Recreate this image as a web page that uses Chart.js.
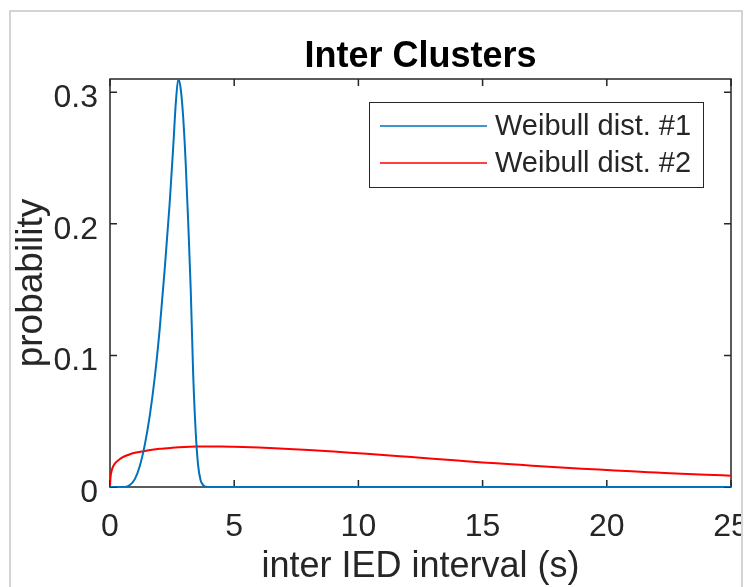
<!DOCTYPE html>
<html>
<head>
<meta charset="utf-8">
<title>Inter Clusters</title>
<script src="https://cdn.jsdelivr.net/npm/chart.js@4.4.1/dist/chart.umd.min.js"></script>
<style>
  html, body { margin: 0; padding: 0; background: #fff; }
  canvas { display: block; }
</style>
</head>
<body>
<canvas id="chart-inter" width="746" height="587"></canvas>
<script>
const FONT = '"Liberation Sans", Arial, Helvetica, sans-serif';
const AXIS_COLOR = '#262626';
const TITLE = 'Inter Clusters';

// axis ticks
const xTicks = [0, 5, 10, 15, 20, 25];
const xTickLabels = ['0', '5', '10', '15', '20', '25'];
const yTicks = [0, 0.1, 0.2, 0.3];
const yTickLabels = ['0', '0.1', '0.2', '0.3'];

// Weibull dist. #1 (narrow peak)
const weibull1X = [0, 0.6, 0.8, 1.0, 1.2, 1.4, 1.6, 1.8, 2.0, 2.2, 2.4, 2.55, 2.65, 2.75,
    2.85, 2.95, 3.05, 3.15, 3.25, 3.35, 3.45, 3.55, 3.65, 3.75, 3.85, 4.0, 25];
const weibull1Y = [0, 0, 0.0015, 0.006, 0.016, 0.032, 0.054, 0.083, 0.12, 0.165, 0.215, 0.26, 0.292, 0.31,
    0.302, 0.28, 0.245, 0.2, 0.15, 0.085, 0.042, 0.016, 0.005, 0.0015, 0.0003, 0, 0];

// Weibull dist. #2 (long tail)
const weibull2X = [0, 0.02, 0.05, 0.1, 0.2, 0.35, 0.5, 0.75, 1.0, 1.5, 2.0, 2.5, 3.0, 3.5, 4.0, 4.5, 5,
    6, 7, 8, 9, 10, 11, 12, 13, 14, 15, 16, 17, 18, 19, 20, 21, 22, 23, 24, 25];
const weibull2Y = [0, 0.007, 0.011, 0.0145, 0.018, 0.0205, 0.0225, 0.0245, 0.026, 0.0277, 0.029, 0.0298, 0.0304, 0.0307, 0.0308, 0.0308, 0.0306,
    0.03, 0.0291, 0.0281, 0.0269, 0.0256, 0.0243, 0.0229, 0.0215, 0.0201, 0.0187, 0.0175, 0.0162, 0.015, 0.0139, 0.0129, 0.0119, 0.011, 0.0101, 0.0093, 0.0086];

function toPoints(xs, ys) {
    return xs.map((x, i) => ({ x: x, y: ys[i] }));
}

// title centred over the axes, not the whole canvas
const axesTitle = {
    id: 'axesTitle',
    afterDraw(chart) {
        const { ctx, chartArea: a } = chart;
        ctx.save();
        ctx.fillStyle = '#000';
        ctx.font = `bold 36px ${FONT}`;
        ctx.textAlign = 'center';
        ctx.textBaseline = 'alphabetic';
        ctx.fillText(TITLE, (a.left + a.right) / 2, 67);
        ctx.restore();
    }
};

// box around the axes with inward ticks on all four sides
const axesBox = {
    id: 'axesBox',
    beforeDatasetsDraw(chart) {
        const { ctx, chartArea: a, scales } = chart;
        ctx.save();
        ctx.strokeStyle = AXIS_COLOR;
        ctx.lineWidth = 1.5;
        ctx.strokeRect(a.left, a.top, a.right - a.left, a.bottom - a.top);
        ctx.beginPath();
        xTicks.forEach(v => {
            const px = scales.x.getPixelForValue(v);
            ctx.moveTo(px, a.bottom);
            ctx.lineTo(px, a.bottom - 7);
            ctx.moveTo(px, a.top);
            ctx.lineTo(px, a.top + 7);
        });
        yTicks.forEach(v => {
            const py = scales.y.getPixelForValue(v);
            ctx.moveTo(a.left, py);
            ctx.lineTo(a.left + 7, py);
            ctx.moveTo(a.right, py);
            ctx.lineTo(a.right - 7, py);
        });
        ctx.stroke();
        ctx.restore();
    }
};

// legend in the upper right corner of the axes
const boxLegend = {
    id: 'boxLegend',
    afterDatasetsDraw(chart) {
        const { ctx, chartArea: a } = chart;
        const width = 334;
        const height = 85;
        const left = a.right - 28 - width;
        const top = a.top + 23;
        ctx.save();
        ctx.fillStyle = '#fff';
        ctx.fillRect(left, top, width, height);
        ctx.strokeStyle = AXIS_COLOR;
        ctx.lineWidth = 1;
        ctx.strokeRect(left + 0.5, top + 0.5, width, height);
        ctx.font = `29px ${FONT}`;
        ctx.textBaseline = 'middle';
        chart.data.datasets.forEach((ds, i) => {
            const y = top + 24 + i * 37;
            ctx.strokeStyle = ds.borderColor;
            ctx.lineWidth = 1.5;
            ctx.beginPath();
            ctx.moveTo(left + 11, y);
            ctx.lineTo(left + 118, y);
            ctx.stroke();
            ctx.fillStyle = AXIS_COLOR;
            ctx.fillText(ds.label, left + 126, y + 1);
        });
        ctx.restore();
    }
};

// light grey figure border
const figureFrame = {
    id: 'figureFrame',
    afterDraw(chart) {
        const { ctx, width, height } = chart;
        ctx.save();
        ctx.fillStyle = '#fff';
        ctx.fillRect(742, 0, width - 742, height);
        ctx.strokeStyle = '#d4d4d4';
        ctx.lineWidth = 2;
        ctx.beginPath();
        ctx.moveTo(10, height);
        ctx.lineTo(10, 11);
        ctx.lineTo(742, 11);
        ctx.lineTo(742, height);
        ctx.stroke();
        ctx.restore();
    }
};

const ctxInter = document.getElementById('chart-inter');
new Chart(ctxInter, {
    type: 'line',
    data: {
        datasets: [{
            label: 'Weibull dist. #1',
            data: toPoints(weibull1X, weibull1Y),
            borderColor: '#0072BD',
            borderWidth: 2,
            pointRadius: 0,
            cubicInterpolationMode: 'monotone',
            fill: false
        }, {
            label: 'Weibull dist. #2',
            data: toPoints(weibull2X, weibull2Y),
            borderColor: '#FF0000',
            borderWidth: 2,
            pointRadius: 0,
            cubicInterpolationMode: 'monotone',
            fill: false
        }]
    },
    options: {
        responsive: false,
        animation: false,
        devicePixelRatio: 1,
        layout: {
            padding: { left: 0, right: 15, top: 79, bottom: 0 }
        },
        plugins: {
            legend: { display: false },
            tooltip: { enabled: false },
            title: { display: false }
        },
        scales: {
            x: {
                type: 'linear',
                min: 0,
                max: 25,
                grid: { display: false, drawTicks: false },
                border: { display: false },
                afterBuildTicks: (scale) => {
                    scale.ticks = xTicks.map(v => ({ value: v }));
                },
                afterFit: (scale) => {
                    scale.height = 100;
                    scale.paddingLeft = 0;
                    scale.paddingRight = 0;
                },
                ticks: {
                    color: AXIS_COLOR,
                    font: { family: FONT, size: 32 },
                    padding: 21,
                    maxRotation: 0,
                    autoSkip: false,
                    callback: (val, i) => xTickLabels[i]
                },
                title: {
                    display: true,
                    text: 'inter IED interval (s)',
                    color: AXIS_COLOR,
                    font: { family: FONT, size: 36 },
                    padding: { top: 0, bottom: -2 }
                }
            },
            y: {
                type: 'linear',
                min: 0,
                max: 0.31,
                grid: { display: false, drawTicks: false },
                border: { display: false },
                afterBuildTicks: (scale) => {
                    scale.ticks = yTicks.map(v => ({ value: v }));
                },
                afterFit: (scale) => {
                    scale.width = 110;
                    scale.paddingTop = 0;
                    scale.paddingBottom = 0;
                },
                ticks: {
                    color: AXIS_COLOR,
                    font: { family: FONT, size: 32 },
                    padding: 12,
                    labelOffset: 6,
                    autoSkip: false,
                    callback: (val, i) => yTickLabels[i]
                },
                title: {
                    display: true,
                    text: 'probability',
                    color: AXIS_COLOR,
                    font: { family: FONT, size: 37 },
                    padding: { top: 10, bottom: 0 }
                }
            }
        }
    },
    plugins: [axesBox, boxLegend, axesTitle, figureFrame]
});
</script>
</body>
</html>
